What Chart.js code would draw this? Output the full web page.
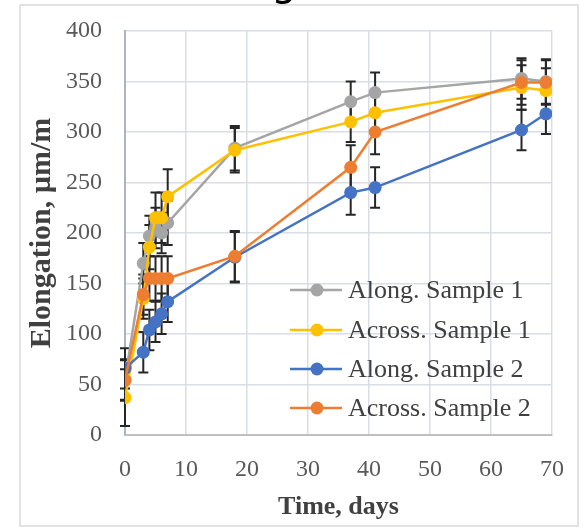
<!DOCTYPE html>
<html>
<head>
<meta charset="utf-8">
<script src="https://cdn.jsdelivr.net/npm/chart.js@4.4.1/dist/chart.umd.min.js"></script>
<style>
    html, body { margin: 0; padding: 0; background: #fff; }
    #wrap { width: 588px; height: 529px; }
</style>
</head>
<body>
<div id="wrap"><canvas id="chart" width="588" height="529"></canvas></div>
<script>
// values
const days = [0, 3, 4, 5, 6, 7, 18, 37, 41, 65, 69];

const alongS1 = [55, 170, 197, 205, 200, 210, 284, 330, 339, 353, 350];
const acrossS1 = [37, 135, 186, 215, 215, 236, 282, 310, 319, 344, 341];
const alongS2 = [66, 82, 104, 112, 120, 132, 176, 240, 245, 302, 318];
const acrossS2 = [54, 139, 155, 155, 155, 155, 177, 265, 300, 349, 349];

// +/- error
const alongS1Err = [20, 20, 20, 20, 20, 22, 22, 20, 20, 20, 22];
const acrossS1Err = [28, 20, 22, 25, 25, 27, 22, 20, 20, 22, 22];
const alongS2Err = [20, 20, 20, 20, 20, 20, 25, 22, 20, 20, 20];
const acrossS2Err = [20, 20, 22, 22, 22, 22, 25, 22, 22, 22, 22];

const seriesNames = ['Along. Sample 1', 'Across. Sample 1', 'Along. Sample 2', 'Across. Sample 2'];
const seriesColors = ['#a5a5a5', '#ffc000', '#4472c4', '#ed7d31'];
const seriesValues = [alongS1, acrossS1, alongS2, acrossS2];
const seriesErrors = [alongS1Err, acrossS1Err, alongS2Err, acrossS2Err];

const xTicks = [0, 10, 20, 30, 40, 50, 60, 70];
const yTicks = [0, 50, 100, 150, 200, 250, 300, 350, 400];

const serif = '"Liberation Serif", "Times New Roman", serif';

function makeDataset(i) {
    return {
        label: seriesNames[i],
        data: days.map((d, k) => ({x: d, y: seriesValues[i][k]})),
        errors: seriesErrors[i],
        borderColor: seriesColors[i],
        backgroundColor: seriesColors[i],
        borderWidth: 2.5,
        pointRadius: 6.5,
        pointBorderWidth: 0,
        pointHoverRadius: 6.5,
        tension: 0,
        order: 3 - i
    };
}

const framePlugin = {
    id: 'frame',
    beforeDraw(chart) {
        const ctx = chart.ctx;
        ctx.save();
        ctx.fillStyle = '#fff';
        ctx.fillRect(0, 0, chart.width, chart.height);
        ctx.strokeStyle = '#d9d9d9';
        ctx.lineWidth = 1.5;
        ctx.strokeRect(20, 5, 558, 521);
        // bottom of the title glyph cut off at the top
        ctx.fillStyle = '#000';
        ctx.font = '40px "DejaVu Sans"';
        ctx.textAlign = 'center';
        ctx.textBaseline = 'alphabetic';
        ctx.fillText('g', 284, -5);
        ctx.restore();
    }
};

const errorBarPlugin = {
    id: 'errorBars',
    beforeDatasetsDraw(chart) {
        const ctx = chart.ctx;
        const xs = chart.scales.x, ys = chart.scales.y;
        ctx.save();
        ctx.strokeStyle = '#262626';
        ctx.lineWidth = 2;
        chart.data.datasets.forEach((ds) => {
            ds.data.forEach((p, k) => {
                const e = ds.errors[k];
                const px = xs.getPixelForValue(p.x);
                const top = ys.getPixelForValue(p.y + e);
                const bot = ys.getPixelForValue(p.y - e);
                ctx.beginPath();
                ctx.moveTo(px, top); ctx.lineTo(px, bot);
                ctx.moveTo(px - 5, top); ctx.lineTo(px + 5, top);
                ctx.moveTo(px - 5, bot); ctx.lineTo(px + 5, bot);
                ctx.stroke();
            });
        });
        ctx.restore();
    }
};

const legendPlugin = {
    id: 'insideLegend',
    afterDraw(chart) {
        const ctx = chart.ctx;
        const rows = [290, 330, 369, 408];
        ctx.save();
        ctx.font = '26px ' + serif;
        ctx.textBaseline = 'middle';
        ctx.textAlign = 'left';
        chart.data.datasets.forEach((ds, i) => {
            const y = rows[i];
            ctx.strokeStyle = ds.borderColor;
            ctx.lineWidth = 2.5;
            ctx.beginPath();
            ctx.moveTo(290, y); ctx.lineTo(342, y);
            ctx.stroke();
            ctx.fillStyle = ds.backgroundColor;
            ctx.beginPath();
            ctx.arc(317, y, 6.5, 0, Math.PI * 2);
            ctx.fill();
            ctx.fillStyle = '#404040';
            ctx.fillText(ds.label, 348, y + 1);
        });
        ctx.restore();
    }
};

new Chart('chart', {
    type: 'line',
    data: {
        datasets: [0, 1, 2, 3].map(makeDataset)
    },
    options: {
        responsive: false,
        animation: false,
        layout: {padding: {left: 22, top: 31, right: 36, bottom: 2}},
        plugins: {
            legend: {display: false},
            tooltip: {enabled: false}
        },
        scales: {
            x: {
                type: 'linear',
                min: 0,
                max: 70,
                afterBuildTicks: (s) => { s.ticks = xTicks.map(v => ({value: v})); },
                afterFit: (s) => { s.height = 92; },
                grid: {color: '#d9dde6', lineWidth: 1.5, drawTicks: false},
                border: {color: '#bfbfbf', width: 2},
                ticks: {color: '#595959', font: {family: serif, size: 24}, padding: 20},
                title: {
                    display: true,
                    text: 'Time, days',
                    color: '#404040',
                    font: {family: serif, size: 26, weight: 'bold'},
                    padding: {top: 0, bottom: 4}
                }
            },
            y: {
                min: 0,
                max: 400,
                afterBuildTicks: (s) => { s.ticks = yTicks.map(v => ({value: v})); },
                afterFit: (s) => {
                    s.width = 103;
                    s.paddingTop = 0;
                    s.paddingBottom = 0;
                },
                grid: {color: '#d9dde6', lineWidth: 1.5, drawTicks: false},
                border: {color: '#aab4c6', width: 2},
                ticks: {color: '#595959', font: {family: serif, size: 24}, padding: 23},
                title: {
                    display: true,
                    text: 'Elongation, µm/m',
                    color: '#404040',
                    font: {family: serif, size: 30, weight: 'bold'},
                    padding: {top: 2, bottom: 0}
                }
            }
        }
    },
    plugins: [framePlugin, errorBarPlugin, legendPlugin]
});
</script>
</body>
</html>
